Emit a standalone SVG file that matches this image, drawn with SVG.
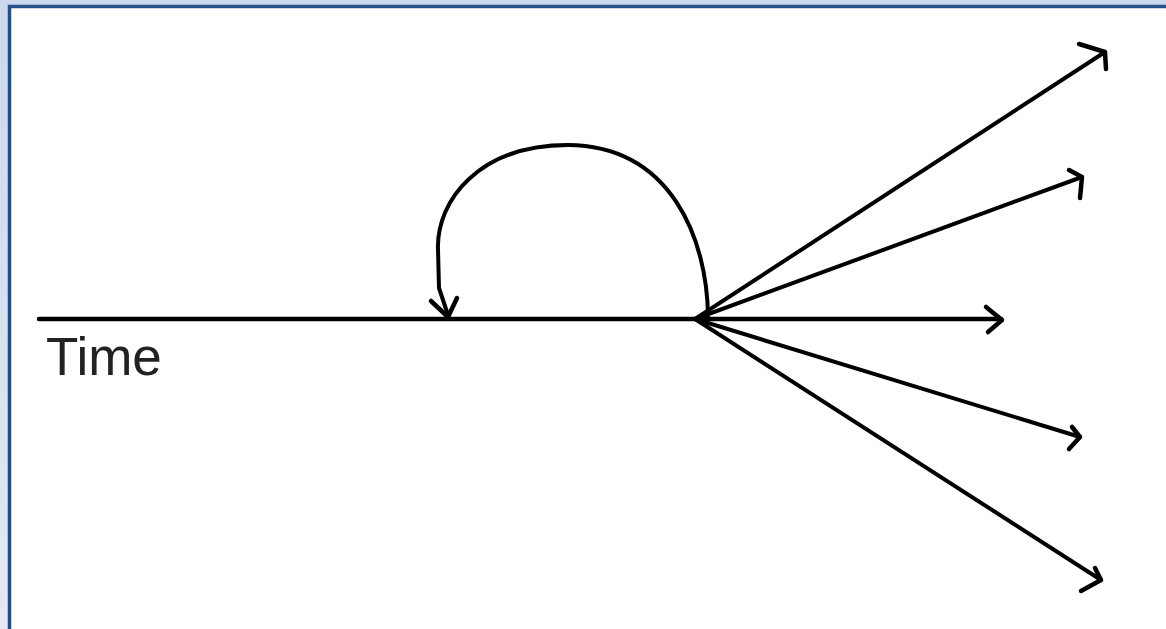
<svg xmlns="http://www.w3.org/2000/svg" width="1166" height="629" viewBox="0 0 1166 629">
<defs>
<linearGradient id="bg" x1="0" y1="0" x2="0" y2="1">
<stop offset="0" stop-color="#cbd8ee"/>
<stop offset="1" stop-color="#e4e9f2"/>
</linearGradient>
</defs>
<style>
.ln{fill:none;stroke:#000;stroke-width:4;stroke-linecap:round;stroke-linejoin:round}
.hd{fill:none;stroke:#000;stroke-width:4.5;stroke-linecap:round;stroke-linejoin:round}
.lbl{font-family:"Liberation Sans",Arial,sans-serif;font-size:53px;fill:#222}
</style>
<rect x="0" y="0" width="1166" height="629" fill="url(#bg)"/>
<rect x="11" y="8" width="1155" height="621" fill="#fff"/>
<path d="M9.5 629 V6.5 H1166" fill="none" stroke="#234f88" stroke-width="3.5"/>
<g id="connectors">
<line class="ln" x1="39" y1="319" x2="1001" y2="319" style="stroke-width:4.5"/>
<polyline class="hd" points="986,307 1002,320 988,332"/>
<line class="ln" x1="695" y1="319" x2="1105" y2="52"/>
<polyline class="hd" points="1079,44 1105,52 1106,69"/>
<line class="ln" x1="695" y1="319" x2="1082" y2="177"/>
<polyline class="hd" points="1069,170 1082,177 1080,198"/>
<line class="ln" x1="695" y1="319" x2="1080" y2="437"/>
<polyline class="hd" points="1072,427 1080,437 1069,449"/>
<line class="ln" x1="695" y1="319" x2="1101" y2="580"/>
<polyline class="hd" points="1095,568 1101,580 1081,591"/>
<path class="ln" d="M708 316 C707 240 672 146 568 145 C480 145 436 200 438 250 L439 288 L448 315"/>
<polyline class="hd" points="431,301 448,317 457,298"/>
</g>
<g id="label-time">
<text class="lbl" x="46" y="375">Time</text>
</g>
</svg>
